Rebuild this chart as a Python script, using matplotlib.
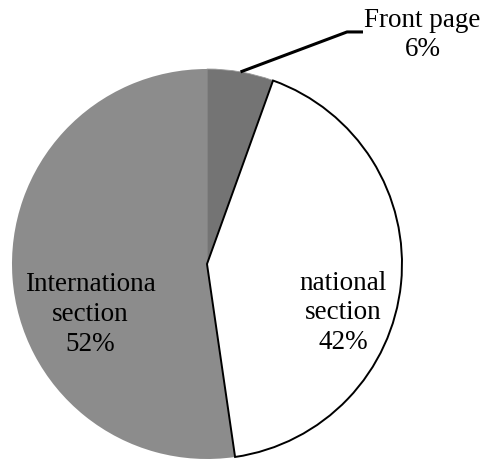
import matplotlib.pyplot as plt
import numpy as np

labels = ['Front page\n6%', 'national\nsection\n42%', 'Internationa\nsection\n52%']
values = [5.5, 42.2, 52.3]
colors = ['#747474', '#ffffff', '#8c8c8c']

plt.rcParams['font.family'] = ['Liberation Serif', 'DejaVu Serif']

fig = plt.figure(figsize=(4.86, 4.60), dpi=100)
ax = fig.add_axes([0, 0, 1, 1])

wedges, _ = ax.pie(values, colors=colors, startangle=90, counterclock=False,
                   radius=1.0, wedgeprops=dict(linewidth=0))
# national slice gets the black outline
wedges[1].set_edgecolor('black')
wedges[1].set_linewidth(1.4)
wedges[1].set_zorder(3)
wedges[0].set_edgecolor('#9a9a9a')
wedges[0].set_linewidth(0.6)

ax.set_xlim(-1.0615, 1.4308)
ax.set_ylim(-1.0, 1.359)
ax.set_aspect('auto')
ax.axis('off')

# front page leader line
mid = np.deg2rad(90 - 360 * values[0] / sum(values) / 2)
x0, y0 = np.cos(mid), np.sin(mid)
ax.plot([x0, 0.718, 0.80], [y0, 1.19, 1.19], color='black', lw=2.2,
        solid_capstyle='butt', zorder=4)
ax.text(1.105, 1.18, labels[0], ha='center', va='center',
        fontsize=19.5, linespacing=1.25)

ax.text(0.70, -0.245, labels[1], ha='center', va='center',
        fontsize=19.5, linespacing=1.25, zorder=5)
ax.text(-0.60, -0.255, labels[2], ha='center', va='center',
        fontsize=19.5, linespacing=1.25, zorder=5)

fig.savefig('out.png', dpi=100)
